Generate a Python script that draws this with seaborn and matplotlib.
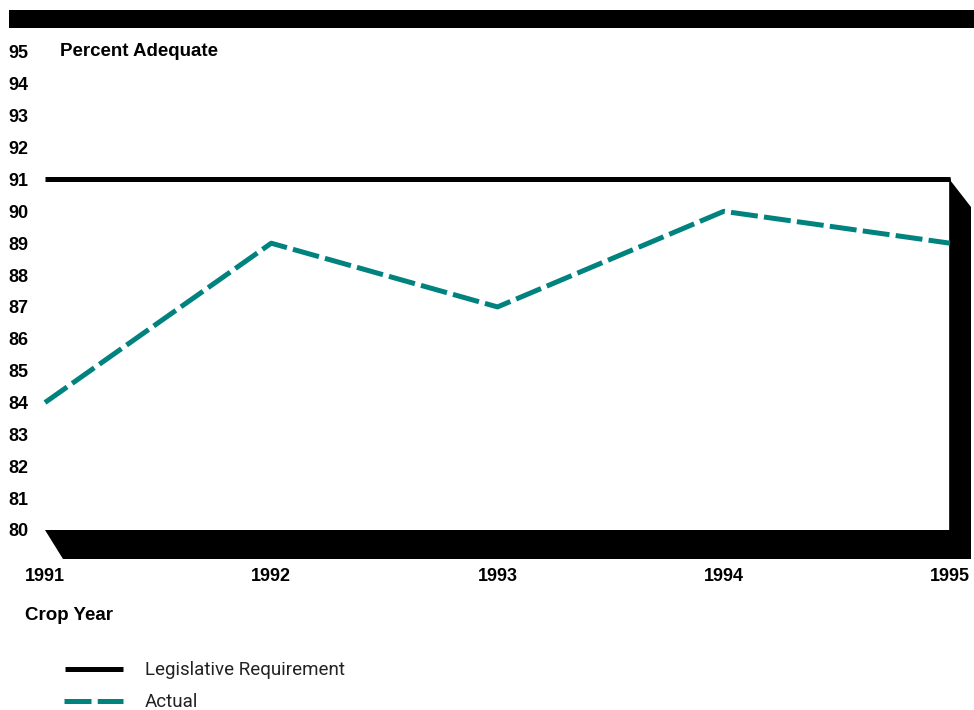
import matplotlib
matplotlib.use("Agg")
import matplotlib.pyplot as plt
from matplotlib.lines import Line2D
from matplotlib.patches import Rectangle, Polygon
import seaborn as sns
import pandas as pd

# Crop years and series
years = [1991, 1992, 1993, 1994, 1995]
actual = [84, 89, 87, 90, 89]
requirement = [91, 91, 91, 91, 91]
y_ticks = list(range(80, 96))

TEAL = "#00827F"
W, H = 974, 710
LW = 3.6
DASH = [5.4, 1.25]  # in multiples of the line width

sns.set_theme(style="white")
plt.rcParams["font.family"] = ["Liberation Sans", "DejaVu Sans"]
plt.rcParams["text.color"] = "black"
plt.rcParams["xtick.color"] = "black"
plt.rcParams["ytick.color"] = "black"

fig = plt.figure(figsize=(W / 100, H / 100), dpi=100)
fig.patch.set_facecolor("white")

# plot area in pixel terms: x 45..950, y 52 (95) .. 530 (80)
L, R, T, B = 45, 950, 52, 530
ax = fig.add_axes([L / W, 1 - B / H, (R - L) / W, (B - T) / H])
ax.set_xlim(years[0], years[-1])
ax.set_ylim(80, 95)
ax.set_facecolor("none")
for s in ax.spines.values():
    s.set_visible(False)

px_per_year = (R - L) / (years[-1] - years[0])
px_per_unit = (B - T) / (95 - 80)


def to_data(px, py):
    return years[0] + (px - L) / px_per_year, 95 - (py - T) / px_per_unit


# drop shadow of the box (right side and floor)
shadow_px = [(950, 180), (971, 207), (971, 559), (63, 559), (45, 530), (950, 530)]
ax.add_patch(Polygon([to_data(*p) for p in shadow_px], closed=True,
                     facecolor="black", edgecolor="none", clip_on=False, zorder=1))
# right edge of the box
ax.plot([years[-1], years[-1]], [80, 91], color="black", lw=1.2, clip_on=False, zorder=2)

df = pd.DataFrame({"year": years, "actual": actual, "requirement": requirement})
sns.lineplot(data=df, x="year", y="requirement", ax=ax, color="black",
             lw=LW, solid_capstyle="butt", clip_on=False, zorder=3)
sns.lineplot(data=df, x="year", y="actual", ax=ax, color=TEAL,
             lw=LW, clip_on=False, zorder=4)
ax.lines[-1].set_dashes(DASH)
ax.lines[-1].set_dash_capstyle("butt")

# ticks and labels
ax.set_xlabel("")
ax.set_ylabel("")
ax.set_yticks(y_ticks)
ax.set_yticklabels([str(v) for v in y_ticks], fontsize=13, fontweight="bold")
for t in ax.get_yticklabels():
    t.set_horizontalalignment("left")
ax.tick_params(axis="y", length=0, pad=(L - 8) * 0.72)
ax.set_xticks(years)
ax.set_xticklabels([str(v) for v in years], fontsize=13, fontweight="bold")
ax.tick_params(axis="x", length=0, pad=(568 - B) * 0.72)

# header band
fig.add_artist(Rectangle((9 / W, 1 - 28 / H), (W - 9) / W, 18 / H,
                         transform=fig.transFigure, facecolor="black", edgecolor="none"))

fig.text(60 / W, 1 - 52 / H, "Percent Adequate", fontsize=13.5, fontweight="bold",
         ha="left", va="center")
fig.text(25 / W, 1 - 615 / H, "Crop Year", fontsize=13.5, fontweight="bold",
         ha="left", va="center")

# legend
fig.add_artist(Line2D([65 / W, 123 / W], [1 - 669 / H] * 2, transform=fig.transFigure,
                      color="black", lw=LW, solid_capstyle="butt"))
fig.add_artist(Line2D([64 / W, 123 / W], [1 - 701 / H] * 2, transform=fig.transFigure,
                      color=TEAL, lw=LW, dashes=DASH, dash_capstyle="butt"))
legend_font = dict(fontsize=13.5, fontweight="normal", color="#222222",
                   family=["Roboto", "DejaVu Sans"], ha="left", va="center")
fig.text(145 / W, 1 - 670 / H, "Legislative Requirement", **legend_font)
fig.text(145 / W, 1 - 702 / H, "Actual", **legend_font)

fig.savefig("out.png", dpi=100, facecolor="white")
